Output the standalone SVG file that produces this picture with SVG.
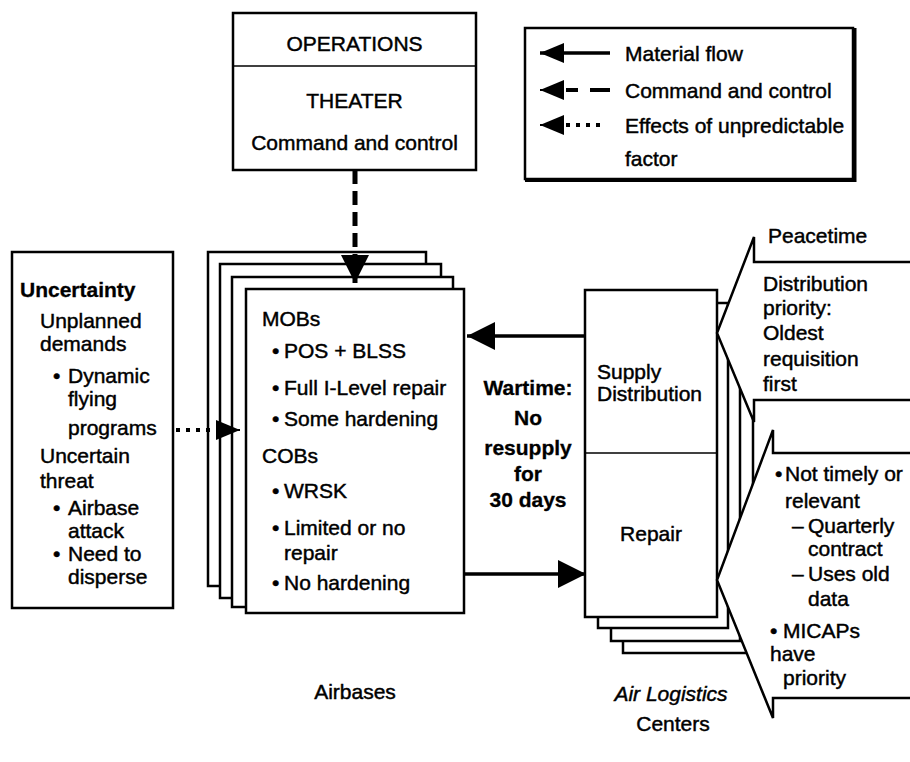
<svg xmlns="http://www.w3.org/2000/svg" width="910" height="762" viewBox="0 0 910 762">
<defs>
<style>
text{font-family:"Liberation Sans",Arial,Helvetica,sans-serif;font-size:21px;fill:#000;stroke:#000;stroke-width:0.45}
.c{text-anchor:middle}
.b{font-weight:bold;stroke-width:0.3}
.i{font-style:italic}
.box{fill:#fff;stroke:#000;stroke-width:2.5}
.thin{fill:none;stroke:#000;stroke-width:1.5}
.solid{fill:none;stroke:#000;stroke-width:3.5}
.dash{fill:none;stroke:#000;stroke-width:5;stroke-dasharray:14 7}
.dot{fill:none;stroke:#000;stroke-width:4;stroke-dasharray:4 6}
.call{fill:#fff;stroke:none}
.callL{fill:none;stroke:#000;stroke-width:2.5;stroke-linejoin:miter}
</style>
<marker id="head" viewBox="0 0 28 28" refX="28" refY="14" markerWidth="28" markerHeight="28" markerUnits="userSpaceOnUse" orient="auto">
<path d="M0,0 L28,14 L0,28 z" fill="#000"/>
</marker>
<marker id="headS" viewBox="0 0 24 20" refX="24" refY="10" markerWidth="24" markerHeight="20" markerUnits="userSpaceOnUse" orient="auto">
<path d="M0,0 L24,10 L0,20 z" fill="#000"/>
</marker>
</defs>
<rect width="910" height="762" fill="#fff"/>

<g id="operations">
<rect class="box" x="233" y="13" width="243" height="157"/>
<line class="thin" x1="233" y1="66" x2="476" y2="66"/>
<text class="c" x="354.5" y="51">OPERATIONS</text>
<text class="c" x="354.5" y="108">THEATER</text>
<text class="c" x="354.5" y="150">Command and control</text>
</g>

<g id="legend">
<rect class="box" x="525" y="28" width="328" height="151"/>
<line x1="525" y1="180" x2="855" y2="180" stroke="#000" stroke-width="4"/>
<line x1="855" y1="28" x2="855" y2="182" stroke="#000" stroke-width="3"/>
<line class="solid" x1="610" y1="53" x2="540" y2="53" marker-end="url(#headS)"/>
<text x="625" y="61">Material flow</text>
<path d="M610,90 H590 M578,90 H566" fill="none" stroke="#000" stroke-width="4"/>
<line x1="562" y1="90" x2="540" y2="90" stroke="#000" stroke-width="2" marker-end="url(#headS)"/>
<text x="625" y="98">Command and control</text>
<line class="dot" x1="566" y1="125" x2="606" y2="125"/>
<line x1="562" y1="125" x2="540" y2="125" stroke="#000" stroke-width="2" marker-end="url(#headS)"/>
<text x="625" y="133">Effects of unpredictable</text>
<text x="625" y="166">factor</text>
</g>

<g id="uncertainty">
<rect class="box" x="12" y="252" width="161" height="356"/>
<text class="b" x="20" y="297">Uncertainty</text>
<text x="40" y="328">Unplanned</text>
<text x="40" y="351">demands</text>
<text x="53" y="383">•</text><text x="68" y="383">Dynamic</text>
<text x="68" y="406">flying</text>
<text x="68" y="435">programs</text>
<text x="40" y="463">Uncertain</text>
<text x="40" y="488">threat</text>
<text x="53" y="515">•</text><text x="68" y="515">Airbase</text>
<text x="68" y="538">attack</text>
<text x="53" y="561">•</text><text x="68" y="561">Need to</text>
<text x="68" y="584">disperse</text>
</g>

<g id="airbases">
<rect class="box" x="208" y="252" width="218" height="334"/>
<rect class="box" x="220" y="264" width="221" height="334"/>
<rect class="box" x="232" y="277" width="221" height="330"/>
<rect class="box" x="246" y="289" width="218" height="324"/>
<text x="262" y="326">MOBs</text>
<text x="272" y="358">•</text><text x="284" y="358">POS + BLSS</text>
<text x="272" y="395">•</text><text x="284" y="395">Full I-Level repair</text>
<text x="272" y="426">•</text><text x="284" y="426">Some hardening</text>
<text x="262" y="463">COBs</text>
<text x="272" y="498">•</text><text x="284" y="498">WRSK</text>
<text x="272" y="535">•</text><text x="284" y="535">Limited or no</text>
<text x="284" y="560">repair</text>
<text x="272" y="590">•</text><text x="284" y="590">No hardening</text>
</g>

<g id="alc">
<rect class="box" x="623" y="329" width="130" height="324"/>
<rect class="box" x="611" y="316" width="129" height="325"/>
<rect class="box" x="598" y="303" width="130" height="325"/>
<rect class="box" x="585" y="290" width="132" height="327"/>
<line class="thin" x1="585" y1="453" x2="717" y2="453"/>
<text x="597" y="379">Supply</text>
<text x="597" y="401">Distribution</text>
<text class="c" x="651" y="541">Repair</text>
</g>

<g id="peacetime">
<polygon class="call" points="910,262 754,262 754,237 717,333 754,422 754,400 910,400"/>
<polyline class="callL" points="910,262 754,262 754,237 717,333 754,422 754,400 910,400"/>
<text x="768" y="243">Peacetime</text>
<text x="763" y="291">Distribution</text>
<text x="763" y="315">priority:</text>
<text x="763" y="340">Oldest</text>
<text x="763" y="366">requisition</text>
<text x="763" y="391">first</text>
</g>

<g id="wartime-repair">
<polygon class="call" points="910,453 773,453 773,430 717,580 773,718 773,698 910,698"/>
<polyline class="callL" points="910,453 773,453 773,430 717,580 773,718 773,698 910,698"/>
<text x="775" y="481">•</text><text x="785" y="481">Not timely or</text>
<text x="785" y="508">relevant</text>
<text x="792" y="533">–</text><text x="808" y="533">Quarterly</text>
<text x="808" y="556">contract</text>
<text x="792" y="581">–</text><text x="808" y="581">Uses old</text>
<text x="808" y="606">data</text>
<text x="770" y="638">•</text><text x="783" y="638">MICAPs</text>
<text x="770" y="661">have</text>
<text x="783" y="685">priority</text>
</g>

<g id="wartime">
<text class="c b" x="528" y="395">Wartime:</text>
<text class="c b" x="528" y="425">No</text>
<text class="c b" x="528" y="455">resupply</text>
<text class="c b" x="528" y="481">for</text>
<text class="c b" x="528" y="507">30 days</text>
</g>

<g id="connectors">
<line class="dash" x1="355" y1="170" x2="355" y2="283" marker-end="url(#head)"/>
<line class="dot" x1="176" y1="430" x2="222" y2="430"/>
<line x1="218" y1="430" x2="240" y2="430" stroke="#000" stroke-width="2" marker-end="url(#headS)"/>
<line class="solid" x1="585" y1="336" x2="467" y2="336" marker-end="url(#head)"/>
<line class="solid" x1="464" y1="574" x2="586" y2="574" marker-end="url(#head)"/>
</g>

<g id="labels">
<text class="c" x="355" y="699">Airbases</text>
<text class="c i" x="671" y="701">Air Logistics</text>
<text class="c" x="673" y="731">Centers</text>
</g>
</svg>
